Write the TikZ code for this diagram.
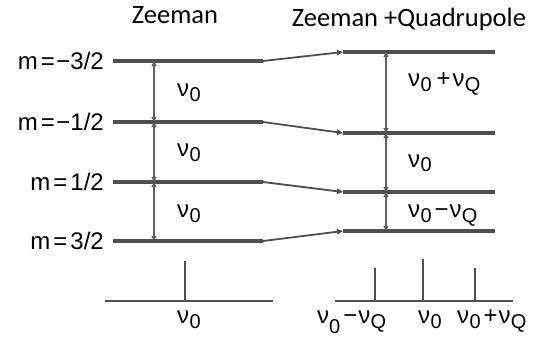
\documentclass[tikz,border=0pt]{standalone}
\usepackage{fontspec}
\setmainfont{Liberation Sans}
\newfontfamily\titlefont{Carlito}
\usetikzlibrary{arrows.meta}
\definecolor{lc}{HTML}{4F4F4F}
\definecolor{ac}{HTML}{5F5F5F}
\newcommand\nusb[1]{ν\kern0.3pt\raisebox{-5pt}{\fontsize{20}{20}\selectfont #1}}
\begin{document}
\begin{tikzpicture}[x=1pt,y=-1pt,
  level/.style={line width=3.2pt, draw=lc},
  conn/.style={line width=1.8pt, draw=lc, -{Triangle[length=6pt,width=5.5pt]}},
  gap/.style={line width=2.2pt, draw=ac, {Triangle[length=5pt,width=5pt]}-{Triangle[length=5pt,width=5pt]}},
  stick/.style={line width=2.8pt, draw=lc},
  txt/.style={inner sep=0pt, anchor=base west, font=\fontsize{24}{27}\selectfont},
  mlab/.style={inner sep=0pt, anchor=base east, font=\fontsize{24}{27}\selectfont},
  ttl/.style={inner sep=0pt, anchor=base, font=\titlefont\fontsize{26.5}{30}\selectfont}
]
\useasboundingbox[fill=white] (0,0) rectangle (536,345);

% titles
\node[ttl] (t1) at (175,24) {Zeeman};
\node[ttl] (t2) at (409,27) {Zeeman +Quadrupole};

% left levels
\foreach \n/\y in {1/61,2/122,3/182,4/241}{
  \coordinate (La\n) at (113,\y);
  \coordinate (Lb\n) at (263,\y);
  \coordinate (Lv\n) at (154,\y);
}
% right levels
\foreach \n/\y in {1/52,2/133,3/192,4/231}{
  \coordinate (Ra\n) at (343,\y);
  \coordinate (Rb\n) at (495,\y);
  \coordinate (Rv\n) at (386,\y);
}
\foreach \n in {1,2,3,4}{
  \draw[level] (La\n) -- (Lb\n);
  \draw[level] (Ra\n) -- (Rb\n);
  \draw[conn] (Lb\n) -- (Ra\n);
}
\draw[gap] (Lv1) -- (Lv2);
\draw[gap] (Lv2) -- (Lv3);
\draw[gap] (Lv3) -- (Lv4);
\draw[gap] (Rv1) -- (Rv2);
\draw[gap] (Rv2) -- (Rv3);
\draw[gap] (Rv3) -- (Rv4);

% m labels
\node[mlab] (m1) at (104,69.5) {m\kern3pt=\kern1.5pt−3/2};
\node[mlab] (m2) at (104,130.5) {m\kern3pt=\kern1.5pt−1/2};
\node[mlab] (m3) at (104,190.5) {m\kern3pt=\kern3pt1/2};
\node[mlab] (m4) at (104,249.5) {m\kern3pt=\kern3pt3/2};

% gap labels
\node[txt] (g1) at (177,97) {\nusb{0}};
\node[txt] (g2) at (177,157) {\nusb{0}};
\node[txt] (g3) at (177,217) {\nusb{0}};
\node[txt] (g4) at (408,87) {\nusb{0}\kern5pt+\kern2pt\nusb{Q}};
\node[txt] (g5) at (408,167) {\nusb{0}};
\node[txt] (g6) at (408,217) {\nusb{0}\kern3pt−\kern1pt\nusb{Q}};

% spectra
\coordinate (sa) at (105,301);
\coordinate (sb) at (273,301);
\coordinate (s0b) at (185,301);
\coordinate (s0t) at (185,261);
\draw[stick] (sa) -- (sb);
\draw[stick] (s0b) -- (s0t);
\node[txt] (p0) at (177,323) {\nusb{0}};

\coordinate (ra) at (335,301);
\coordinate (rb) at (513,301);
\coordinate (r1b) at (375,301);
\coordinate (r1t) at (375,268);
\coordinate (r2b) at (423,301);
\coordinate (r2t) at (423,259);
\coordinate (r3b) at (475,301);
\coordinate (r3t) at (475,268);
\draw[stick] (ra) -- (rb);
\draw[stick] (r1b) -- (r1t);
\draw[stick] (r2b) -- (r2t);
\draw[stick] (r3b) -- (r3t);
\node[txt] (p1) at (317,323) {ν\raisebox{-10pt}{\fontsize{20}{20}\selectfont 0}\kern3pt−\kern1pt\nusb{Q}};
\node[txt] (p2) at (418,323) {\nusb{0}};
\node[txt] (p3) at (457,323) {\nusb{0}\kern3pt+\kern1pt\nusb{Q}};
\end{tikzpicture}
\end{document}
